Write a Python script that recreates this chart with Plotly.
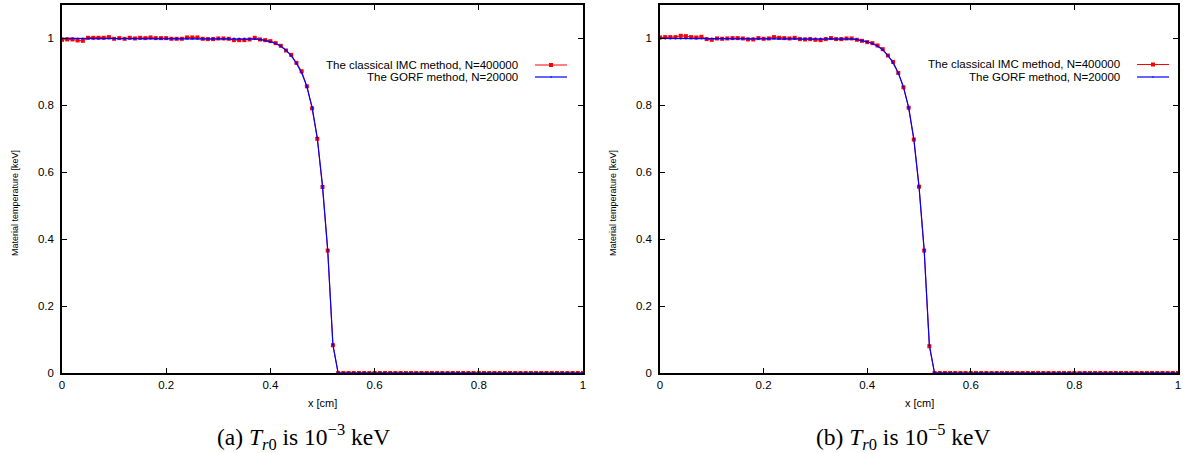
import numpy as np
import plotly.graph_objects as go

# ---------------- data ----------------
x_cm = np.round(np.linspace(0.0, 1.0, 101), 2)

imc_a = [0.996, 0.997, 0.997, 0.994, 0.993, 1.002, 1.002, 1.002, 1.002, 1.004,
         0.999, 1.001, 0.999, 1.002, 1.000, 1.002, 1.001, 1.003, 1.001, 1.001,
         1.001, 0.999, 0.999, 0.999, 1.003, 1.003, 1.003, 0.999, 0.998, 0.998,
         1.000, 1.000, 0.999, 0.995, 0.995, 0.995, 0.997, 1.002, 0.997, 0.995,
         0.992, 0.986, 0.978, 0.964, 0.951, 0.927, 0.902, 0.857, 0.791, 0.700,
         0.556, 0.366, 0.083, 0.0, 0.0, 0.0, 0.0, 0.0, 0.0, 0.0,
         0.0, 0.0, 0.0, 0.0, 0.0, 0.0, 0.0, 0.0, 0.0, 0.0,
         0.0, 0.0, 0.0, 0.0, 0.0, 0.0, 0.0, 0.0, 0.0, 0.0,
         0.0, 0.0, 0.0, 0.0, 0.0, 0.0, 0.0, 0.0, 0.0, 0.0,
         0.0, 0.0, 0.0, 0.0, 0.0, 0.0, 0.0, 0.0, 0.0, 0.0,
         0.0]

gorf_a = [1.000, 1.000, 1.000, 1.000, 1.000, 1.000, 1.000, 1.000, 1.000, 1.000,
          1.000, 1.000, 1.000, 1.000, 1.000, 1.000, 1.000, 1.000, 1.000, 1.000,
          1.000, 1.000, 1.000, 1.000, 1.000, 1.000, 1.000, 1.000, 1.000, 1.000,
          1.000, 1.000, 1.000, 1.000, 1.000, 1.000, 0.999, 0.998, 0.997, 0.994,
          0.990, 0.985, 0.977, 0.965, 0.948, 0.926, 0.897, 0.856, 0.795, 0.703,
          0.560, 0.368, 0.085, 0.0, 0.0, 0.0, 0.0, 0.0, 0.0, 0.0,
          0.0, 0.0, 0.0, 0.0, 0.0, 0.0, 0.0, 0.0, 0.0, 0.0,
          0.0, 0.0, 0.0, 0.0, 0.0, 0.0, 0.0, 0.0, 0.0, 0.0,
          0.0, 0.0, 0.0, 0.0, 0.0, 0.0, 0.0, 0.0, 0.0, 0.0,
          0.0, 0.0, 0.0, 0.0, 0.0, 0.0, 0.0, 0.0, 0.0, 0.0,
          0.0]

imc_b = [1.003, 1.004, 1.004, 1.004, 1.008, 1.007, 1.004, 1.003, 1.005, 0.998,
         0.996, 1.000, 0.999, 1.000, 1.001, 1.001, 1.000, 0.997, 0.997, 1.001,
         0.999, 1.000, 1.004, 1.002, 1.001, 1.000, 1.002, 0.998, 0.997, 0.998,
         0.996, 0.995, 0.998, 1.001, 0.998, 0.998, 1.000, 1.000, 0.996, 0.993,
         0.989, 0.986, 0.979, 0.968, 0.949, 0.930, 0.897, 0.854, 0.793, 0.698,
         0.557, 0.366, 0.080, 0.0, 0.0, 0.0, 0.0, 0.0, 0.0, 0.0,
         0.0, 0.0, 0.0, 0.0, 0.0, 0.0, 0.0, 0.0, 0.0, 0.0,
         0.0, 0.0, 0.0, 0.0, 0.0, 0.0, 0.0, 0.0, 0.0, 0.0,
         0.0, 0.0, 0.0, 0.0, 0.0, 0.0, 0.0, 0.0, 0.0, 0.0,
         0.0, 0.0, 0.0, 0.0, 0.0, 0.0, 0.0, 0.0, 0.0, 0.0,
         0.0]

gorf_b = [1.000, 1.000, 1.000, 1.000, 1.000, 1.000, 1.000, 1.000, 1.000, 1.000,
          1.000, 1.000, 1.000, 1.000, 1.000, 1.000, 1.000, 1.000, 1.000, 1.000,
          1.000, 1.000, 1.000, 1.000, 1.000, 1.000, 1.000, 1.000, 1.000, 1.000,
          1.000, 1.000, 1.000, 1.000, 1.000, 1.000, 0.999, 0.998, 0.997, 0.994,
          0.990, 0.985, 0.977, 0.966, 0.949, 0.927, 0.897, 0.855, 0.794, 0.700,
          0.558, 0.368, 0.083, 0.0, 0.0, 0.0, 0.0, 0.0, 0.0, 0.0,
          0.0, 0.0, 0.0, 0.0, 0.0, 0.0, 0.0, 0.0, 0.0, 0.0,
          0.0, 0.0, 0.0, 0.0, 0.0, 0.0, 0.0, 0.0, 0.0, 0.0,
          0.0, 0.0, 0.0, 0.0, 0.0, 0.0, 0.0, 0.0, 0.0, 0.0,
          0.0, 0.0, 0.0, 0.0, 0.0, 0.0, 0.0, 0.0, 0.0, 0.0,
          0.0]

series_names = ["The classical IMC method, N=400000", "The GORF method, N=20000"]
tick_vals = [0, 0.2, 0.4, 0.6, 0.8, 1]
tick_text = ["0", "0.2", "0.4", "0.6", "0.8", "1"]
captions = ["(a) <i>T</i><sub><i>r</i>0</sub> is 10<sup>\u22123</sup> keV",
            "(b) <i>T</i><sub><i>r</i>0</sub> is 10<sup>\u22125</sup> keV"]
x_title = "x [cm]"
y_title = "Material temperature [keV]"

# ---------------- layout helpers (window pixel -> paper) ----------------
W, H = 1187, 453
def px(xp):
    return xp / W
def py(yp):
    return 1 - yp / H

RED = "#ff0000"
BLUE = "#0000ff"
SANS = "Liberation Sans"
SERIF = "Liberation Serif"

panels = [
    dict(x0=62, x1=583, imc=imc_a, gorf=gorf_a, xa="x", ya="y",
         leg_text=520, leg_l0=535, leg_l1=567, rows=(65, 77), cap_x=304),
    dict(x0=660, x1=1178, imc=imc_b, gorf=gorf_b, xa="x2", ya="y2",
         leg_text=1122, leg_l0=1137, leg_l1=1169, rows=(64.5, 77), cap_x=903),
]
plot_top, plot_bot = 5, 373

fig = go.Figure()
annotations = []
shapes = []

for k, p in enumerate(panels):
    fig.add_trace(go.Scatter(
        x=x_cm, y=p["imc"], mode="lines+markers", name=series_names[0],
        line=dict(color=RED, width=1),
        marker=dict(symbol="square", size=4, color=RED),
        xaxis=p["xa"], yaxis=p["ya"], cliponaxis=False, showlegend=False))
    fig.add_trace(go.Scatter(
        x=x_cm, y=p["gorf"], mode="lines+markers", name=series_names[1],
        line=dict(color=BLUE, width=1.2),
        marker=dict(symbol="circle", size=2, color=BLUE),
        xaxis=p["xa"], yaxis=p["ya"], cliponaxis=False, showlegend=False))

    cx = (p["x0"] + p["x1"]) / 2
    annotations.append(dict(text=x_title, x=px(cx), y=py(403), xref="paper", yref="paper",
                            showarrow=False, xanchor="center", yanchor="middle",
                            font=dict(family=SANS, size=11, color="black")))
    annotations.append(dict(text=y_title, x=px(p["x0"] - 47), y=py(203), xref="paper", yref="paper",
                            showarrow=False, xanchor="center", yanchor="middle", textangle=-90,
                            font=dict(family=SANS, size=9, color="black")))
    annotations.append(dict(text=captions[k], x=px(p["cap_x"]), y=py(437), xref="paper", yref="paper",
                            showarrow=False, xanchor="center", yanchor="middle",
                            font=dict(family=SERIF, size=23.5, color="black")))
    for j, (name, col) in enumerate(zip(series_names, [RED, BLUE])):
        ry = p["rows"][j]
        annotations.append(dict(text=name, x=px(p["leg_text"]), y=py(ry), xref="paper", yref="paper",
                                showarrow=False, xanchor="right", yanchor="middle",
                                font=dict(family=SANS, size=11.5, color="black")))
        shapes.append(dict(type="line", xref="paper", yref="paper",
                           x0=px(p["leg_l0"]), x1=px(p["leg_l1"]), y0=py(ry), y1=py(ry),
                           line=dict(color=col, width=1.2 if j else 1)))
        mx = (p["leg_l0"] + p["leg_l1"]) / 2
        half = 2 if j == 0 else 0.8
        shapes.append(dict(type="rect" if j == 0 else "circle", xref="paper", yref="paper",
                           x0=px(mx - half), x1=px(mx + half), y0=py(ry - half), y1=py(ry + half),
                           line=dict(color=col, width=0), fillcolor=col))

axis_common = dict(showline=True, linecolor="black", linewidth=1.5, mirror="ticks",
                   ticks="inside", ticklen=5, tickwidth=1, tickcolor="black",
                   showgrid=False, zeroline=False, automargin=False,
                   tickfont=dict(family=SANS, size=11.5, color="black"))

fig.update_layout(
    width=W, height=H, template="none",
    margin=dict(l=0, r=0, t=0, b=0),
    paper_bgcolor="white", plot_bgcolor="white",
    showlegend=False,
    xaxis=dict(domain=[px(62), px(583)], range=[0, 1], tickvals=tick_vals, ticktext=tick_text,
               anchor="y", **axis_common),
    yaxis=dict(domain=[py(plot_bot), py(plot_top)], range=[0, 1.1], tickvals=tick_vals,
               ticktext=tick_text, anchor="x", ticklabelstandoff=4, **axis_common),
    xaxis2=dict(domain=[px(660), px(1178)], range=[0, 1], tickvals=tick_vals, ticktext=tick_text,
                anchor="y2", **axis_common),
    yaxis2=dict(domain=[py(plot_bot), py(plot_top)], range=[0, 1.1], tickvals=tick_vals,
                ticktext=tick_text, anchor="x2", ticklabelstandoff=4, **axis_common),
    annotations=annotations,
    shapes=shapes,
)

fig.write_html("out.html", config={"displayModeBar": False},
               post_script="document.body.style.margin='0';document.body.style.overflow='hidden';")
